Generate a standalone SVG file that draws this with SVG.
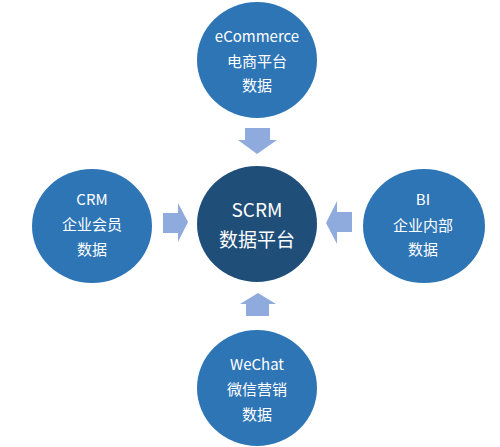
<svg xmlns="http://www.w3.org/2000/svg" width="500" height="447" viewBox="0 0 500 447">
<style>
.c{fill:#2e75b6}
.m{fill:#1f4e79}
.a{fill:#8faadc}
text{fill:#ffffff;font-family:"Noto Sans CJK SC","Liberation Sans",sans-serif;text-anchor:middle;dominant-baseline:central}
.s{font-size:15px}
.b{font-size:19px}
</style>
<rect width="500" height="447" fill="#ffffff"/>
<g id="connectors">
<polygon class="a" points="245,128 270,128 270,140 277,140 257,154 238,140 245,140"/>
<polygon class="a" points="163,213 178,213 178,203 188,222 178,242 178,233 163,233"/>
<polygon class="a" points="352,212 337,212 337,201 326,223 337,244 337,232 352,232"/>
<polygon class="a" points="246,316 269,316 269,304 276,304 258,293 240,304 246,304"/>
</g>
<g id="ecommerce">
<ellipse class="c" cx="257" cy="60" rx="60" ry="58"/>
<text class="s" x="257" y="35">eCommerce</text>
<text class="s" x="257" y="60">电商平台</text>
<text class="s" x="257" y="84">数据</text>
</g>
<g id="scrm">
<ellipse class="m" cx="257" cy="224" rx="60" ry="58"/>
<text class="b" x="257" y="208">SCRM</text>
<text class="b" x="257" y="238">数据平台</text>
</g>
<g id="crm">
<ellipse class="c" cx="92" cy="226" rx="60" ry="57"/>
<text class="s" x="92" y="198">CRM</text>
<text class="s" x="92" y="223">企业会员</text>
<text class="s" x="92" y="248">数据</text>
</g>
<g id="bi">
<ellipse class="c" cx="424" cy="226" rx="61" ry="57"/>
<text class="s" x="423" y="198">BI</text>
<text class="s" x="423" y="224">企业内部</text>
<text class="s" x="423" y="248">数据</text>
</g>
<g id="wechat">
<ellipse class="c" cx="257" cy="388" rx="60" ry="58"/>
<text class="s" x="257" y="363">WeChat</text>
<text class="s" x="257" y="388">微信营销</text>
<text class="s" x="257" y="413">数据</text>
</g>
</svg>
